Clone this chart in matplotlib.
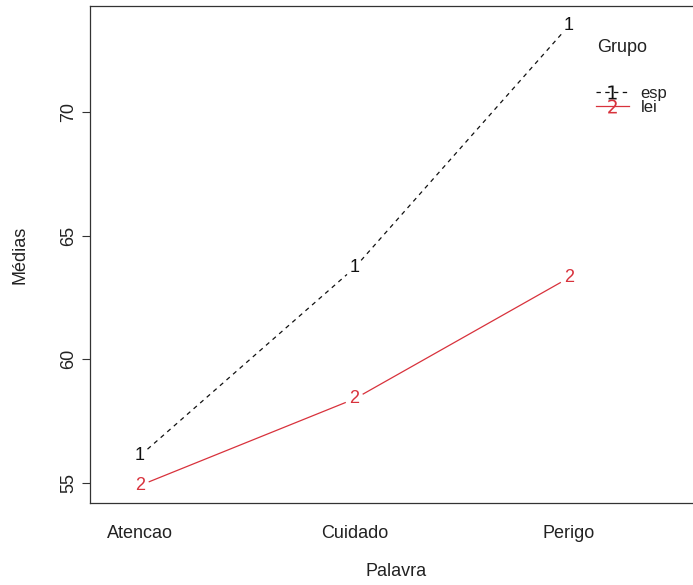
import numpy as np
import matplotlib
matplotlib.use("Agg")
import matplotlib.pyplot as plt
from matplotlib.lines import Line2D

# dados (medias por palavra e grupo)
palavra = ["Atencao", "Cuidado", "Perigo"]
esp = [56.1, 63.7, 73.5]
lei = [54.9, 58.4, 63.3]
grupos = ["esp", "lei"]
y_ticks = [55, 60, 65, 70]

plt.rcParams["font.family"] = ["Liberation Sans", "DejaVu Sans"]
fs = 13

fig = plt.figure(figsize=(6.93, 5.85), dpi=100)
ax = fig.add_axes([90 / 693, 82 / 585, 612 / 693, 497 / 585])
x = np.arange(1, len(palavra) + 1)
ax.set_xlim(0.767, 3.62)
ax.set_ylim(54.19, 74.29)

cor_lei = "#D8323C"


# linha tipo "b" do R: segmentos interrompidos em volta do simbolo
def linha_b(xs, ys, simbolo, cor, estilo, gap=10):
    pts = ax.transData.transform(np.column_stack([xs, ys]))
    inv = ax.transData.inverted()
    for p0, p1 in zip(pts[:-1], pts[1:]):
        d = p1 - p0
        u = d / np.hypot(*d)
        a = inv.transform(np.array([p0 + u * gap, p1 - u * gap]))
        ln, = ax.plot(a[:, 0], a[:, 1], color=cor, lw=0.9)
        if estilo == "--":
            ln.set_dashes((3.5, 3.5))
    for xi, yi in zip(xs, ys):
        ax.text(xi, yi, simbolo, color=cor, ha="center", va="center", fontsize=fs)


linha_b(x, esp, "1", "#111111", "--")
linha_b(x, lei, "2", cor_lei, "-")

ax.set_xticks(x)
ax.set_xticklabels(palavra)
ax.set_yticks(y_ticks)
ax.tick_params(axis="x", length=0, pad=16, labelsize=fs, labelcolor="#222222")
ax.tick_params(axis="y", length=6, width=0.8, pad=3, labelsize=fs, labelcolor="#222222", color="#333333")
plt.setp(ax.get_yticklabels(), rotation=90, va="center")

for s in ax.spines.values():
    s.set_color("#333333")
    s.set_linewidth(0.9)
ax.spines["right"].set_visible(False)

ax.set_xlabel("Palavra", fontsize=fs, color="#222222")
ax.set_ylabel("Médias", fontsize=fs, color="#222222")
ax.xaxis.set_label_coords(0.5, -0.12)
ax.yaxis.set_label_coords(-0.1, 0.5)

# legenda
ax.text(0.869, 0.9175, "Grupo", transform=ax.transAxes, ha="center", va="center",
        fontsize=fs, color="#222222")
h1 = Line2D([], [], color="#111111", lw=0.9, dashes=(3.5, 3.5), marker="$1$",
            markersize=10, markeredgewidth=0)
h2 = Line2D([], [], color=cor_lei, lw=0.9, marker="$2$", markersize=10,
            markeredgewidth=0)
ax.legend([h1, h2], grupos, loc="upper left", bbox_to_anchor=(0.826, 0.84),
          frameon=False, borderpad=0, borderaxespad=0, labelspacing=-0.05,
          handlelength=2.0, handletextpad=0.7, numpoints=1, fontsize=12,
          labelcolor="#222222")

fig.savefig("out.png", dpi=100)
